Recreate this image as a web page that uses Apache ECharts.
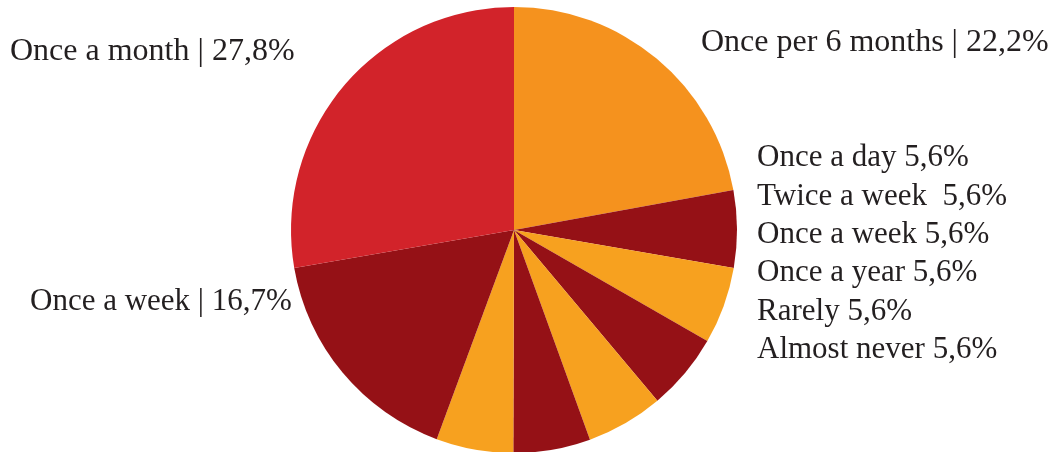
<!DOCTYPE html>
<html>
<head>
<meta charset="utf-8">
<script src="https://cdn.jsdelivr.net/npm/echarts@6/dist/echarts.min.js"></script>
<style>
html,body{margin:0;padding:0;background:#fff;}
#chart{width:1059px;height:452px;}
</style>
</head>
<body>
<div id="chart"></div>
<script>
// Data (clockwise from 12 o'clock)
const categories = ["Once per 6 months","Once a day","Twice a week ","Once a week","Once a year","Rarely","Almost never","Once a week","Once a month"];
const percentages = [22.2, 5.6, 5.6, 5.6, 5.6, 5.6, 5.6, 16.7, 27.8];
const separators = [" | "," "," "," "," "," "," "," | "," | "];
const sliceColors = ['#F5921E','#951116','#F7A11F','#951116','#F7A11F','#951116','#F7A11F','#951116','#D2232A'];

const chart = echarts.init(document.getElementById('chart'));

function labelPos(i){
  if (i === 0) return {x:701, y:43};
  if (i >= 1 && i <= 6) return {x:757, y:158 + (i-1)*38.4};
  if (i === 7) return {x:30, y:302};
  return {x:10, y:52};
}
function labelSize(i){ return (i === 0 || i === 8) ? 32 : 31; }

chart.setOption({
  animation:false,
  backgroundColor:'#ffffff',
  series:[{
    type:'pie',
    center:[514,230],
    radius:[0,223],
    startAngle:90,
    clockwise:true,
    silent:true,
    data: categories.map((n,i)=>({name:n, value:percentages[i], itemStyle:{color:sliceColors[i]}, label:{fontSize:labelSize(i)}})),
    label:{
      show:true,
      position:'outside',
      fontFamily:'Liberation Serif',
      fontSize:32,
      color:'#231F20',
      overflow:'none',
      width:400,
      formatter:(p)=> p.name + separators[p.dataIndex] + String(p.value).replace('.', ',') + '%'
    },
    labelLine:{show:false},
    labelLayout:(params)=>{
      const pos = labelPos(params.dataIndex);
      return {x:pos.x, y:pos.y, align:'left', verticalAlign:'middle', hideOverlap:false, moveOverlap:false};
    }
  }]
});
</script>
</body>
</html>
